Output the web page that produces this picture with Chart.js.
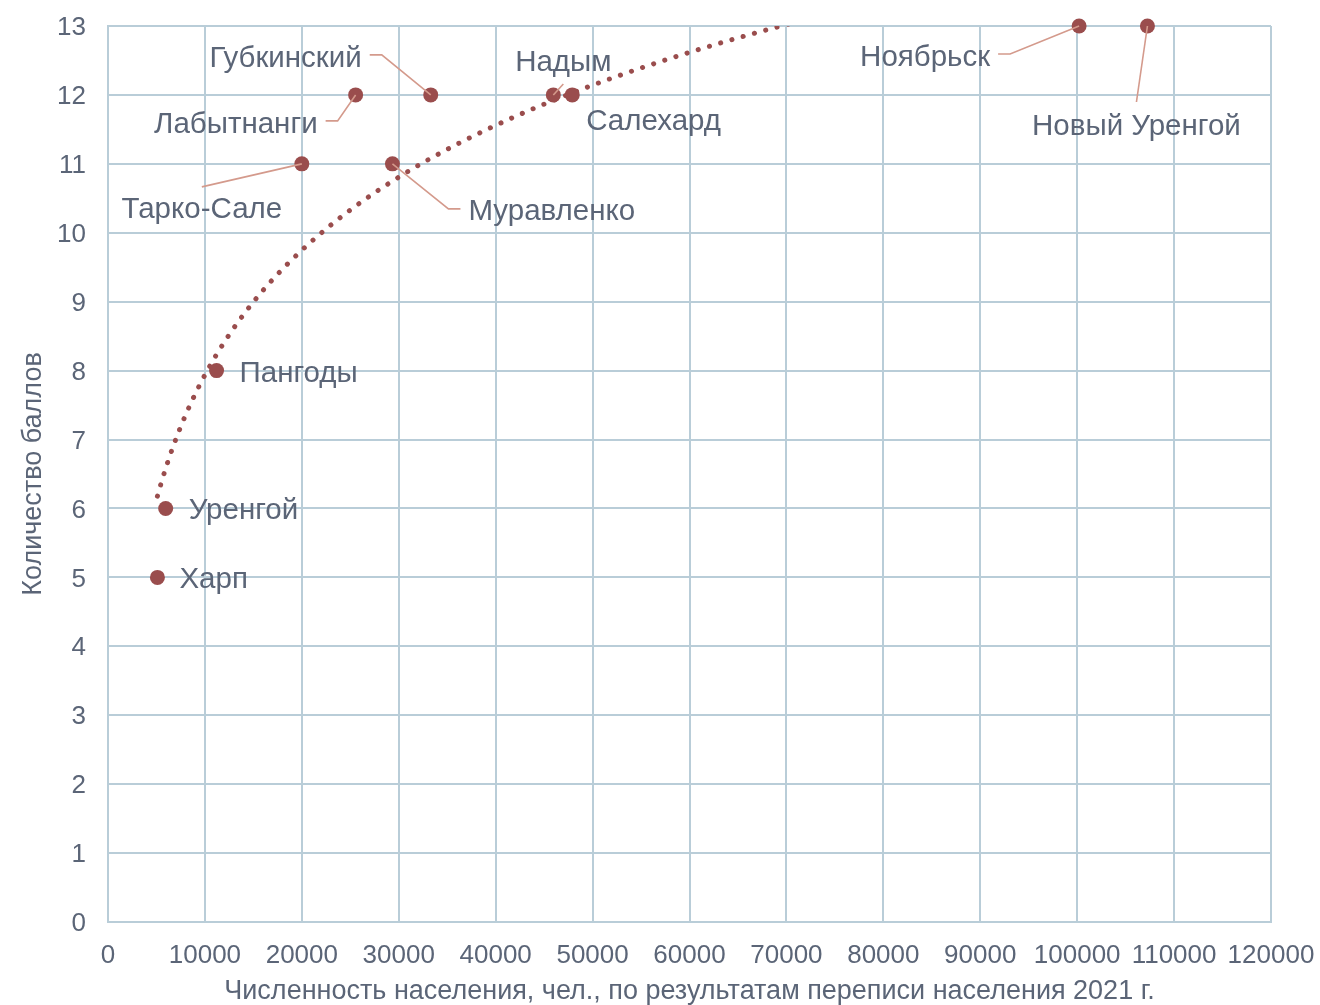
<!DOCTYPE html>
<html><head><meta charset="utf-8">
<script src="https://cdn.jsdelivr.net/npm/chart.js@4.4.1/dist/chart.umd.min.js"></script>
<style>html,body{margin:0;padding:0;background:#fff}#wrap{width:1320px;height:1005px;position:relative}</style>
</head><body><div id="wrap"><canvas id="c"></canvas></div>
<script>
// ---- data ----
const cities = ['Харп','Уренгой','Пангоды','Тарко-Сале','Лабытнанги','Муравленко','Губкинский','Надым','Салехард','Ноябрьск','Новый Уренгой'];
const population = [5100, 5950, 11200, 20000, 25550, 29350, 33300, 45950, 47900, 100200, 107250];
const scores = [5, 6, 8, 11, 12, 11, 12, 12, 12, 13, 13];
const xAxisRange = [0, 120000];
const xAxisStep = 10000;
const yAxisRange = [0, 13];
const yAxisStep = 1;
const xTitle = 'Численность населения, чел., по результатам переписи населения 2021 г.';
const yTitle = 'Количество баллов';

// ---- styles ----
const TEXT = '#5b6577';
const GRID = '#b9cdd8';
const POINT = '#9a4d4d';
const LEADER = '#d49a8c';
const FONT = "'Liberation Sans', Arial, sans-serif";

// label placement relative to each point (pixels)
const labelPlacement = {
  'Харп':          {dx: 22,  dy: 2,   align: 'left'},
  'Уренгой':       {dx: 23,  dy: 2,   align: 'left'},
  'Пангоды':       {dx: 23,  dy: 3,   align: 'left'},
  'Тарко-Сале':    {dx: -100,dy: 46,  align: 'center', leader: 'top', gap: 23},
  'Лабытнанги':    {dx: -38, dy: 29.5,align: 'right', leader: 'elbow'},
  'Муравленко':    {dx: 76,  dy: 48.5,align: 'left',  leader: 'elbow'},
  'Губкинский':    {dx: -69, dy: -36.5,align: 'right', leader: 'elbow'},
  'Надым':         {dx: 10,  dy: -32, align: 'center', leader: 'bottom', gap: 21},
  'Салехард':      {dx: 14,  dy: 26.5,align: 'left'},
  'Ноябрьск':      {dx: -89, dy: 31.5,align: 'right', leader: 'elbow'},
  'Новый Уренгой': {dx: -11, dy: 101, align: 'center', leader: 'top', gap: 25}
};

// logarithmic least-squares trendline computed from the data
function logFit(xs, ys) {
  const lx = xs.map(Math.log);
  const n = xs.length;
  const mx = lx.reduce((a, b) => a + b, 0) / n;
  const my = ys.reduce((a, b) => a + b, 0) / n;
  let sxy = 0, sxx = 0;
  for (let i = 0; i < n; i++) { sxy += (lx[i] - mx) * (ys[i] - my); sxx += (lx[i] - mx) ** 2; }
  const a = sxy / sxx;
  return {a, b: my - a * mx};
}
const fit = logFit(population, scores);
const xmin = Math.min(...population), xmax = Math.max(...population);
const trend = [];
for (let i = 0; i <= 400; i++) {
  const x = xmin + (xmax - xmin) * i / 400;
  trend.push({x, y: fit.a * Math.log(x) + fit.b});
}

const labelPlugin = {
  id: 'cityLabels',
  afterDatasetsDraw(chart) {
    const ctx = chart.ctx;
    const meta = chart.getDatasetMeta(0);
    ctx.save();
    ctx.font = `29.5px ${FONT}`;
    ctx.textBaseline = 'middle';
    meta.data.forEach((pt, i) => {
      const name = cities[i];
      const p = labelPlacement[name];
      const ax = pt.x + p.dx, ay = pt.y + p.dy;
      ctx.textAlign = p.align;
      ctx.fillStyle = TEXT;
      ctx.fillText(name, ax, ay);
      if (!p.leader) return;
      ctx.strokeStyle = LEADER;
      ctx.lineWidth = 1.6;
      ctx.beginPath();
      if (p.leader === 'elbow') {
        const ly = ay - 3.5;
        if (p.align === 'right') {
          ctx.moveTo(ax + 8, ly); ctx.lineTo(ax + 20, ly);
        } else {
          ctx.moveTo(ax - 8, ly); ctx.lineTo(ax - 20, ly);
        }
        ctx.lineTo(pt.x, pt.y);
      } else if (p.leader === 'top') {
        ctx.moveTo(ax, ay - p.gap); ctx.lineTo(pt.x, pt.y);
      } else if (p.leader === 'bottom') {
        ctx.moveTo(ax, ay + p.gap); ctx.lineTo(pt.x, pt.y);
      }
      ctx.stroke();
    });
    ctx.restore();
  }
};

new Chart(document.getElementById('c'), {
  type: 'scatter',
  data: {
    datasets: [
      {
        label: 'Баллы',
        data: population.map((x, i) => ({x, y: scores[i]})),
        backgroundColor: POINT,
        borderColor: POINT,
        borderWidth: 0,
        pointRadius: 7.5,
        pointHoverRadius: 7.5,
        clip: false
      },
      {
        label: 'Тренд',
        type: 'line',
        data: trend,
        borderColor: POINT,
        borderWidth: 5,
        borderDash: [0.1, 11.6],
        borderCapStyle: 'round',
        pointRadius: 0,
        tension: 0,
        fill: false
      }
    ]
  },
  options: {
    responsive: true,
    maintainAspectRatio: false,
    animation: false,
    layout: {padding: {top: 26, right: 49, left: 0, bottom: 0}},
    plugins: {legend: {display: false}, tooltip: {enabled: false}},
    scales: {
      x: {
        type: 'linear',
        min: xAxisRange[0], max: xAxisRange[1],
        ticks: {stepSize: xAxisStep, color: TEXT, font: {family: FONT, size: 26}, padding: 18, maxRotation: 0, autoSkip: false,
                callback: v => String(v)},
        grid: {color: GRID, lineWidth: 2, drawTicks: false},
        border: {color: GRID, width: 2},
        title: {display: true, text: xTitle, color: TEXT, font: {family: FONT, size: 27}, padding: {top: 0, bottom: -3}},
        afterFit(s) { s.height = 83; s.paddingLeft = 0; s.paddingRight = 0; }
      },
      y: {
        type: 'linear',
        min: yAxisRange[0], max: yAxisRange[1],
        ticks: {stepSize: yAxisStep, color: TEXT, font: {family: FONT, size: 26}, padding: 22, labelOffset: 2},
        grid: {color: GRID, lineWidth: 2, drawTicks: false},
        border: {color: GRID, width: 2},
        title: {display: true, text: yTitle, color: TEXT, font: {family: FONT, size: 27}, padding: {top: 17, bottom: 0}},
        afterFit(s) { s.width = 108; s.paddingTop = 0; s.paddingBottom = 0; }
      }
    }
  },
  plugins: [labelPlugin]
});
</script>
</body></html>
